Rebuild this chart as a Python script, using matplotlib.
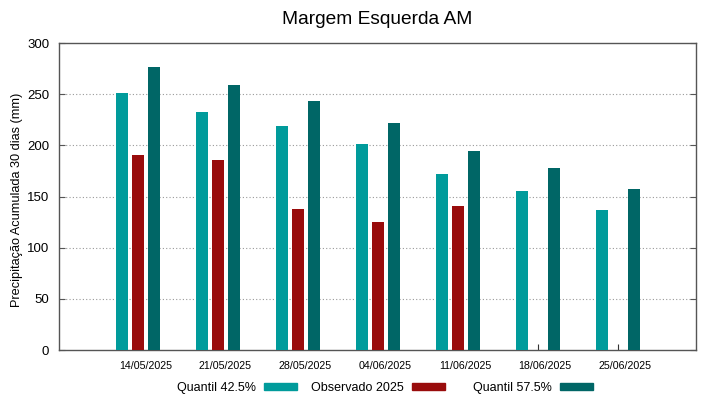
import matplotlib
matplotlib.use("Agg")
import matplotlib.pyplot as plt
from matplotlib.patches import Patch
import numpy as np

plt.rcParams['font.family'] = ['Liberation Sans', 'DejaVu Sans']

# dados
datas = ["14/05/2025", "21/05/2025", "28/05/2025", "04/06/2025",
         "11/06/2025", "18/06/2025", "25/06/2025"]
quantil_425 = [251, 233, 219, 201, 172, 155, 137]
observado_2025 = [191, 186, 138, 125, 141, np.nan, np.nan]
quantil_575 = [277, 259, 243, 222, 194, 178, 157]

cor_q425 = '#009b9b'
cor_obs = '#990c0c'
cor_q575 = '#006666'

x = np.arange(len(datas))
largura = 0.15
desloc = 0.2

fig = plt.figure(figsize=(7.19, 3.99), dpi=100)
ax = fig.add_axes([0.0821, 0.1228, 0.8859, 0.7694])

ax.bar(x - desloc, quantil_425, largura, color=cor_q425, zorder=3)
ax.bar(x, observado_2025, largura, color=cor_obs, zorder=3)
ax.bar(x + desloc, quantil_575, largura, color=cor_q575, zorder=3)

ax.set_xlim(-0.9875, 6.975)
ax.set_ylim(0, 300)
ax.set_yticks(np.arange(0, 301, 50))

# marcas no centro dos grupos, rótulos um pouco deslocados (como no original)
ax.set_xticks(x)
ax.set_xticklabels([])
ax.tick_params(axis='x', which='major', direction='in', length=4, color='#333333')
ax.set_xticks(x + 0.09, minor=True)
ax.set_xticklabels(datas, minor=True, fontsize=7.7)
ax.tick_params(axis='x', which='minor', length=0, pad=8)

ax.tick_params(axis='y', direction='in', length=4, labelsize=9.5, right=True,
               color='#555555', pad=7)

for v in [50, 100, 150, 200, 250]:
    ax.axhline(v, color='#999999', linestyle=(0, (1, 2)), linewidth=0.8, zorder=1)

for s in ax.spines.values():
    s.set_color('#555555')
    s.set_linewidth(1.0)

ax.set_ylabel("Precipitação Acumulada 30 dias (mm)", fontsize=9.2)
ax.yaxis.set_label_coords(-0.057, 0.49)
ax.set_title("Margem Esquerda AM", fontsize=13.8, pad=14)

# legenda estilo gnuplot: texto à esquerda da amostra, colunas de largura fixa
series = [("Quantil 42.5%", cor_q425), ("Observado 2025", cor_obs),
          ("Quantil 57.5%", cor_q575)]
bordas = [0.4131, 0.6189, 0.8248]
for (rotulo, cor), xr in zip(series, bordas):
    fig.legend([Patch(color=cor)], [rotulo], loc='center right',
               bbox_to_anchor=(xr, 0.028), frameon=False, markerfirst=False,
               fontsize=9.0, handlelength=2.64, handleheight=0.4,
               handletextpad=0.64, borderpad=0, borderaxespad=0)

fig.savefig("out.png", dpi=100)
